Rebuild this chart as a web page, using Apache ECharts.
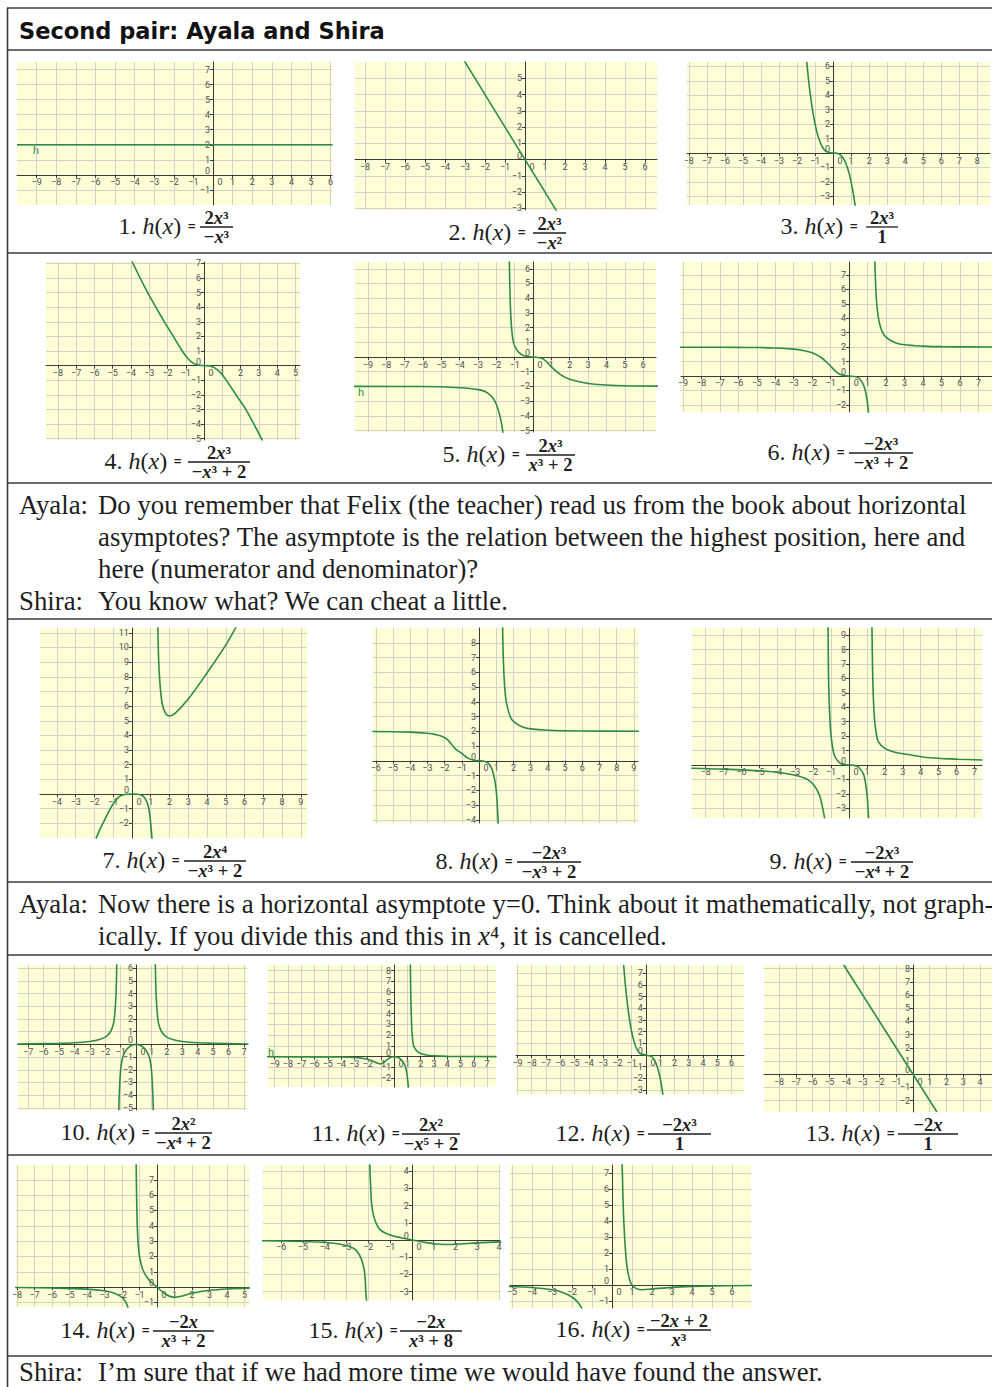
<!DOCTYPE html>
<html>
<head>
<meta charset="utf-8">
<title>Second pair: Ayala and Shira</title>
<script src="https://cdn.jsdelivr.net/npm/echarts@6.0.0/dist/echarts.min.js"></script>
<style>
html,body{margin:0;padding:0;background:#ffffff;}
#chart{width:992px;height:1387px;}
</style>
</head>
<body>
<div id="chart"></div>
<script>
// ---------- curve points [x, h(x)] ----------
const g1 = [[-10, 2], [0, 2], [6.1, 2]];
const g2 = [[-3.1, 6.2], [0, 0], [1.6, -3.2]];
const g3 = [[-1.46, 6.3], [-1.3, 4.4], [-1.1, 2.66], [-0.9, 1.46], [-0.7, 0.69], [-0.5, 0.25], [-0.3, 0.05], [0, 0], [0.3, -0.05], [0.5, -0.25], [0.7, -0.69], [0.9, -1.46], [1.1, -2.66], [1.23, -3.7]];
const g4 = [[-3.95, 7.15], [-3.13, 5.1], [-2.22, 3.1], [-1.68, 2.0], [-1.22, 1.05], [-0.9, 0.5], [-0.6, 0.17], [-0.3, 0.02], [0, 0], [0.3, -0.02], [0.6, -0.17], [0.95, -0.55], [1.24, -1.05], [1.8, -2.1], [2.33, -3.1], [3.2, -5.15]];
const g5a = [[-9.8, -2.0], [-6, -2.01], [-4, -2.09], [-3, -2.22], [-2.5, -2.42], [-2.1, -2.95], [-1.85, -3.8], [-1.72, -4.5], [-1.62, -5.3]];
const g5b = [[-1.29, 6.5], [-1.26, 4.5], [-1.22, 3.0], [-1.17, 2.0], [-1.1, 1.2], [-1.0, 0.75], [-0.8, 0.35], [-0.5, 0.08], [0, 0], [0.5, -0.1], [0.8, -0.4], [1, -0.68], [1.5, -1.2], [2, -1.52], [3, -1.8], [4, -1.9], [5, -1.95], [6.8, -1.98]];
const g6a = [[-9.2, 1.99], [-6, 1.98], [-5, 1.97], [-4, 1.94], [-3, 1.86], [-2.5, 1.77], [-2, 1.6], [-1.5, 1.26], [-1.2, 0.93], [-1, 0.67], [-0.7, 0.29], [-0.4, 0.06], [0, 0], [0.4, -0.07], [0.6, -0.24], [0.8, -0.69], [0.95, -1.5], [1.05, -2.6]];
const g6b = [[1.39, 7.95], [1.45, 5.8], [1.5, 4.9], [1.6, 3.9], [1.75, 3.19], [2, 2.67], [2.5, 2.3], [3, 2.16], [4, 2.07], [5, 2.03], [7.8, 2.01]];
const g7a = [[-1.92, -3.05], [-1.7, -2.4], [-1.5, -1.88], [-1.2, -1.11], [-1.0, -0.67], [-0.8, -0.33], [-0.6, -0.12], [-0.3, -0.01], [0, 0], [0.3, -0.01], [0.6, -0.15], [0.8, -0.55], [0.9, -1.0], [1.0, -2.0], [1.07, -3.1]];
const g7b = [[1.38, 11.4], [1.45, 8.4], [1.6, 6.25], [1.8, 5.48], [2, 5.33], [2.3, 5.5], [3, 6.48], [4, 8.26], [5, 10.16], [5.55, 11.4]];
const g8a = [[-6.2, 1.98], [-4, 1.94], [-3, 1.86], [-2.5, 1.77], [-2.17, 1.66], [-1.8, 1.4], [-1.4, 0.84], [-1, 0.5], [-0.62, 0.16], [-0.3, 0.03], [0, 0], [0.3, -0.03], [0.55, -0.18], [0.75, -0.55], [0.93, -1.4], [1.03, -2.4], [1.08, -3.4], [1.12, -4.3]];
const g8b = [[1.37, 9.1], [1.42, 6.7], [1.5, 4.9], [1.6, 3.9], [1.8, 3.04], [2, 2.67], [2.5, 2.3], [3, 2.16], [4, 2.07], [6, 2.02], [9.3, 2.0]];
const g9a = [[-8.8, -0.23], [-7, -0.29], [-5, -0.41], [-4, -0.51], [-3, -0.72], [-2.3, -1.02], [-1.9, -1.5], [-1.62, -2.2], [-1.47, -3.0], [-1.36, -3.7]];
const g9b = [[-1.17, 9.6], [-1.14, 6], [-1.1, 4.2], [-1.05, 2.8], [-1.0, 2.0], [-0.9, 1.1], [-0.8, 0.62], [-0.55, 0.18], [-0.3, 0.03], [0, 0], [0.3, -0.03], [0.55, -0.18], [0.8, -0.62], [0.9, -1.1], [1.0, -2.0], [1.05, -2.8], [1.09, -3.7]];
const g9c = [[1.28, 9.6], [1.31, 7], [1.35, 5], [1.42, 3.2], [1.52, 2.2], [1.64, 1.6], [2, 1.15], [2.5, 0.9], [3.3, 0.72], [4.5, 0.5], [6.1, 0.4], [7.45, 0.34]];
const g10a = [[-7.7, 0.03], [-5, 0.08], [-4, 0.13], [-3, 0.23], [-2.5, 0.34], [-2, 0.57], [-1.7, 0.91], [-1.5, 1.47], [-1.4, 2.13], [-1.3, 3.95], [-1.25, 6.5]];
const g10b = [[-1.12, -5.2], [-1.08, -3.7], [-1.0, -2], [-0.9, -1.2], [-0.8, -0.8], [-0.6, -0.38], [-0.3, -0.09], [0, 0], [0.3, -0.09], [0.6, -0.38], [0.8, -0.8], [0.9, -1.2], [1.0, -2], [1.08, -3.7], [1.12, -5.2]];
const g10c = [[1.25, 6.5], [1.3, 3.95], [1.4, 2.13], [1.5, 1.47], [1.7, 0.91], [2, 0.57], [2.5, 0.34], [3, 0.23], [4, 0.13], [5, 0.08], [7.3, 0.03]];
const g11a = [[-9.6, -0.01], [-5, -0.02], [-4, -0.03], [-3, -0.07], [-2.5, -0.13], [-2, -0.24], [-1.5, -0.47], [-1.2, -0.63], [-1.0, -0.67], [-0.8, -0.55], [-0.5, -0.25], [-0.25, -0.06], [0, 0], [0.25, -0.06], [0.5, -0.25], [0.8, -0.77], [0.95, -1.5], [1.02, -2.2], [1.08, -2.9]];
const g11b = [[1.22, 8.6], [1.25, 5.9], [1.3, 3.5], [1.36, 2.0], [1.45, 1.1], [1.55, 0.8], [1.8, 0.43], [2, 0.3], [2.5, 0.14], [3, 0.08], [4, 0.03], [7.7, 0.005]];
const g12 = [[-1.56, 7.7], [-1.4, 5.5], [-1.2, 3.46], [-1.0, 2.0], [-0.8, 1.02], [-0.6, 0.43], [-0.4, 0.13], [0, 0], [0.4, -0.13], [0.6, -0.43], [0.8, -1.02], [1.0, -2.0], [1.2, -3.46]];
const g13 = [[-4.14, 8.28], [0, 0], [1.43, -2.86]];
const g14a = [[-8.1, -0.03], [-6, -0.06], [-4, -0.13], [-3, -0.24], [-2.5, -0.37], [-2, -0.67], [-1.8, -0.95], [-1.65, -1.35]];
const g14b = [[-1.2, 8.8], [-1.15, 5], [-1.1, 3.3], [-1.0, 2.0], [-0.8, 1.1], [-0.5, 0.53], [-0.25, 0.25], [0, 0], [0.5, -0.47], [1, -0.67], [1.5, -0.56], [2, -0.4], [3, -0.21], [4, -0.12], [5.3, -0.07]];
const g15a = [[-6.9, -0.04], [-6, -0.06], [-5, -0.09], [-4, -0.14], [-3, -0.32], [-2.5, -0.68], [-2.2, -1.66], [-2.1, -3.3], [-2.07, -3.6]];
const g15b = [[-1.93, 4.4], [-1.9, 3.33], [-1.8, 1.66], [-1.5, 0.65], [-1, 0.29], [-0.5, 0.13], [0, 0], [0.5, -0.12], [1, -0.22], [1.5, -0.26], [2, -0.25], [3, -0.17], [4.1, -0.11]];
const g16a = [[-5.2, -0.09], [-4, -0.16], [-3, -0.3], [-2.5, -0.45], [-2, -0.75], [-1.7, -1.1], [-1.5, -1.48]];
const g16b = [[0.45, 8.0], [0.5, 7.6], [0.55, 5.4], [0.6, 3.7], [0.7, 1.75], [0.8, 0.78], [1, 0], [1.5, -0.3], [2, -0.25], [3, -0.15], [4, -0.09], [5, -0.06], [7, -0.03]];

// curves belonging to each numbered graph
const plotCurves = [[g1], [g2], [g3], [g4], [g5a, g5b], [g6a, g6b], [g7a, g7b], [g8a, g8b], [g9a, g9b, g9c],
  [g10a, g10b, g10c], [g11a, g11b], [g12], [g13], [g14a, g14b], [g15a, g15b], [g16a, g16b]];

// visible window of each graph (x range, y range)
const xRanges = [[-10, 6.07], [-8.5, 6.6], [-8.1, 8.7], [-8.65, 5.25], [-9.7, 6.7], [-9.1, 7.73], [-4.9, 9.33], [-6.16, 9.24], [-8.76, 7.42],
  [-7.66, 7.2], [-9.5, 7.67], [-9.1, 6.87], [-8.9, 4.72], [-8.06, 5.26], [-6.83, 4.04], [-5.1, 6.95]];
const yRanges = [[-2, 7.5], [-3.1, 6.0], [-3.6, 6.3], [-5.1, 7.1], [-5.1, 6.46], [-2.5, 7.9], [-3, 11.33], [-4.22, 9.0], [-3.68, 9.5],
  [-5.17, 6.25], [-2.82, 8.53], [-3.33, 7.7], [-2.86, 8.28], [-1.3, 7.97], [-3.49, 4.36], [-1.44, 7.5]];

// formula captions
const fNum = ['2x³', '2x³', '2x³', '2x³', '2x³', '−2x³', '2x⁴', '−2x³', '−2x³', '2x²', '2x²', '−2x³', '−2x', '−2x', '−2x', '−2x + 2'];
const fDen = ['−x³', '−x²', '1', '−x³ + 2', 'x³ + 2', '−x³ + 2', '−x³ + 2', '−x³ + 2', '−x⁴ + 2', '−x⁴ + 2', '−x⁵ + 2', '1', '1', 'x³ + 2', 'x³ + 8', 'x³'];

// dialogue
const dialog = [
  { who: 'Ayala:', lines: ['Do you remember that Felix (the teacher) read us from the book about horizontal', 'asymptotes? The asymptote is the relation between the highest position, here and', 'here (numerator and denominator)?'] },
  { who: 'Shira:', lines: ['You know what? We can cheat a little.'] },
  { who: 'Ayala:', lines: ['Now there is a horizontal asymptote y=0. Think about it mathematically, not graph-', 'ically. If you divide this and this in x⁴, it is cancelled.'] },
  { who: 'Shira:', lines: ['I’m sure that if we had more time we would have found the answer.'] }
];

// ---------- layout (pixels) ----------
const gridBoxes = [
  [17, 62, 315, 143], [355, 62, 302, 148], [687, 62, 303, 143],
  [46, 262, 254, 178], [355, 262, 301, 170], [681, 262, 311, 150],
  [40, 628, 267, 210], [373, 628, 265, 195], [692, 628, 290, 190],
  [18, 965, 229, 145], [268, 965, 228, 122], [516, 965, 228, 129], [764, 965, 228, 147],
  [16, 1165, 233, 142], [263, 1165, 237, 135], [510, 1165, 241, 143]
];
// [label right edge, fraction bar y, fraction left, fraction right]
const formulaPos = [
  [196, 227, 200, 233], [526, 233, 533, 566], [858, 227, 866, 898],
  [182, 462, 188, 250], [520, 455, 526, 575], [845, 453, 849, 913],
  [180, 861, 184, 246], [513, 862, 517, 581], [847, 862, 851, 913],
  [150, 1133, 155, 212], [400, 1134, 402, 460], [645, 1134, 648, 711], [895, 1134, 898, 958],
  [150, 1331, 153, 214], [398, 1331, 400, 462], [645, 1330, 647, 711]
];
const dialogY = [505, 601, 904, 1372];
const hLabels = [[33, 150], [358, 392], [268, 1052]];
const rowLines = [8, 50, 253, 483, 619, 882, 955, 1155, 1356];

const CURVE = '#2f8a48';
const BG = '#fefed6';
const SERIF = '"Liberation Serif", "DejaVu Serif", serif';
const SANS = 'Roboto, "Liberation Sans", sans-serif';

function tickFmt(isX) {
  return function (v) {
    if (Math.abs(v - Math.round(v)) > 1e-6) return '';
    v = Math.round(v);
    if (v === 0) return isX ? '{zx|0}' : '{zy|0}';
    return v < 0 ? '\u2212' + (-v) : String(v);
  };
}
const labelRich = {
  zx: { fontSize: 9, color: '#505050', fontFamily: SANS, padding: [0, 0, 0, 14] },
  zy: { fontSize: 9, color: '#505050', fontFamily: SANS, padding: [0, 0, 8, 0] }
};
// axes cross at the origin: shift each axis from the grid edge to the zero of the other axis
function axisCfg(isX, i, r, other, box) {
  const span = isX ? box[3] : box[2];
  const frac = (0 - other[0]) / (other[1] - other[0]);
  return {
    type: 'value', gridIndex: i, min: r[0], max: r[1],
    position: isX ? 'bottom' : 'left',
    offset: -frac * span,
    minInterval: 1, maxInterval: 1, splitNumber: Math.max(2, Math.round(r[1] - r[0])),
    axisLine: { show: true, onZero: false, lineStyle: { color: '#3a3a3a', width: 1 } },
    axisTick: { show: true, length: 3, lineStyle: { color: '#3a3a3a' } },
    axisLabel: { show: true, fontSize: 9, color: '#505050', fontFamily: SANS, margin: 3,
      showMinLabel: false, showMaxLabel: false, formatter: tickFmt(isX), rich: labelRich },
    splitLine: { show: true, showMinLine: false, showMaxLine: false, lineStyle: { color: '#d2d2c6', width: 1 } },
    splitArea: { show: false }
  };
}

const grids = [], xAxes = [], yAxes = [], series = [];
gridBoxes.forEach((b, i) => {
  grids.push({ left: b[0], top: b[1], width: b[2], height: b[3], show: true, backgroundColor: BG, borderWidth: 0, containLabel: false });
  xAxes.push(axisCfg(true, i, xRanges[i], yRanges[i], b));
  yAxes.push(axisCfg(false, i, yRanges[i], xRanges[i], b));
  plotCurves[i].forEach(c => series.push({
    type: 'line', xAxisIndex: i, yAxisIndex: i, data: c, showSymbol: false, symbol: 'none',
    smooth: 0.35, clip: true, silent: true, animation: false,
    lineStyle: { color: CURVE, width: 1.6 }
  }));
});

// ---------- text & table graphics ----------
const G = [];
const BORDER = '#3b3b3b';
rowLines.forEach(y => G.push({ type: 'line', silent: true, shape: { x1: 7, y1: y, x2: 992, y2: y }, style: { stroke: BORDER, lineWidth: 1.6 } }));
G.push({ type: 'line', silent: true, shape: { x1: 7.5, y1: 8, x2: 7.5, y2: 1387 }, style: { stroke: BORDER, lineWidth: 1.6 } });

G.push({ type: 'text', silent: true, x: 19, y: 31, style: { text: 'Second pair: Ayala and Shira', fontFamily: '"DejaVu Sans", sans-serif', fontWeight: 'bold', fontSize: 22.5, fill: '#121212', verticalAlign: 'middle', align: 'left' } });

function richMath(s, style) {
  return s.split(/(x)/).filter(p => p.length).map(p => p === 'x' ? '{' + style + 'i|x}' : '{' + style + '|' + p + '}').join('');
}
const fRich = {
  L: { fontFamily: SERIF, fontSize: 24, fill: '#1e1e1e' },
  Li: { fontFamily: SERIF, fontSize: 24, fontStyle: 'italic', fill: '#1e1e1e' },
  E: { fontFamily: SANS, fontSize: 16, fill: '#1e1e1e' },
  F: { fontFamily: SERIF, fontSize: 18.5, fontWeight: 'bold', fill: '#1e1e1e' },
  Fi: { fontFamily: SERIF, fontSize: 18.5, fontWeight: 'bold', fontStyle: 'italic', fill: '#1e1e1e' }
};
fNum.forEach((num, i) => {
  const [lx, by, fl, fr] = formulaPos[i];
  const cx = (fl + fr) / 2;
  G.push({ type: 'text', silent: true, x: lx, y: by - 1, style: {
    text: '{L|' + (i + 1) + '. }{Li|h}{L|(}{Li|x}{L|) }{E|=}', rich: fRich, align: 'right', verticalAlign: 'middle' } });
  G.push({ type: 'line', silent: true, shape: { x1: fl, y1: by, x2: fr, y2: by }, style: { stroke: '#1e1e1e', lineWidth: 1.3 } });
  G.push({ type: 'text', silent: true, x: cx, y: by, style: { text: richMath(num, 'F'), rich: fRich, align: 'center', verticalAlign: 'bottom' } });
  G.push({ type: 'text', silent: true, x: cx, y: by + 0.5, style: { text: richMath(fDen[i], 'F'), rich: fRich, align: 'center', verticalAlign: 'top' } });
});

const dRich = {
  D: { fontFamily: SERIF, fontSize: 26.8, fill: '#1e1e1e' },
  Di: { fontFamily: SERIF, fontSize: 26.8, fontStyle: 'italic', fill: '#1e1e1e' }
};
dialog.forEach((d, k) => {
  const y0 = dialogY[k];
  G.push({ type: 'text', silent: true, x: 19, y: y0, style: { text: '{D|' + d.who + '}', rich: dRich, align: 'left', verticalAlign: 'middle' } });
  d.lines.forEach((ln, j) => {
    const txt = ln.replace(/in x⁴/, 'in \u0001⁴').split('\u0001').map(s => s.length ? '{D|' + s + '}' : '').join('{Di|x}');
    G.push({ type: 'text', silent: true, x: 98, y: y0 + 32 * j, style: { text: txt, rich: dRich, align: 'left', verticalAlign: 'middle' } });
  });
});

hLabels.forEach(p => G.push({ type: 'text', silent: true, x: p[0], y: p[1], style: { text: 'h', fontFamily: SANS, fontSize: 11, fill: CURVE, verticalAlign: 'middle' } }));

const chart = echarts.init(document.getElementById('chart'), null, { renderer: 'svg', width: 992, height: 1387 });
chart.setOption({
  backgroundColor: '#ffffff',
  animation: false,
  grid: grids,
  xAxis: xAxes,
  yAxis: yAxes,
  series: series,
  graphic: { elements: G }
});
</script>
</body>
</html>
